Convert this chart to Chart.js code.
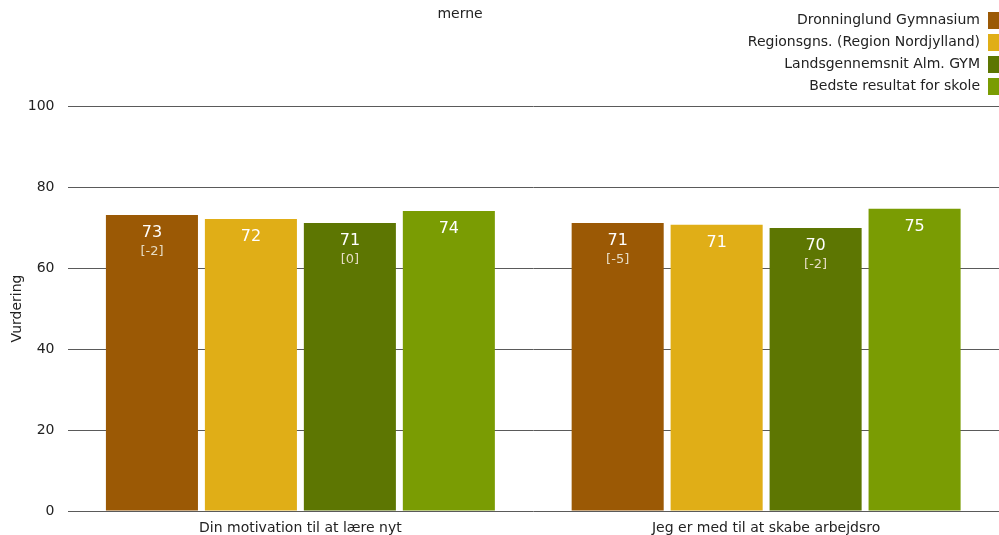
<!DOCTYPE html>
<html>
<head>
<meta charset="utf-8">
<script src="https://cdn.jsdelivr.net/npm/chart.js@4"></script>
<style>
  html, body { margin: 0; padding: 0; background: #fff; }
  #chart { display: block; }
</style>
</head>
<body>
<canvas id="chart" width="999" height="535"></canvas>
<script>
const categories = ["Din motivation til at lære nyt", "Jeg er med til at skabe arbejdsro"];
const seriesNames = ["Dronninglund Gymnasium", "Regionsgns. (Region Nordjylland)", "Landsgennemsnit Alm. GYM", "Bedste resultat for skole"];
const seriesColors = ["#9b5905", "#e0ae17", "#5d7602", "#7a9c03"];
const school = [73.1, 71.1];
const region = [72.1, 70.7];
const national = [71.1, 69.9];
const best = [74.1, 74.6];
// differences shown in brackets under the value
const schoolDiff = ["[-2]", "[-5]"];
const regionDiff = [null, null];
const nationalDiff = ["[0]", "[-2]"];
const bestDiff = [null, null];
const yTicks = [0, 20, 40, 60, 80, 100];

const FONT = "'DejaVu Sans', Verdana, sans-serif";

const values = [school, region, national, best];
const diffs = [schoolDiff, regionDiff, nationalDiff, bestDiff];

const labelPlugin = {
  id: "barLabels",
  afterDatasetsDraw(chart) {
    const ctx = chart.ctx;
    ctx.save();
    ctx.textAlign = "center";
    ctx.textBaseline = "middle";
    chart.data.datasets.forEach((ds, i) => {
      const meta = chart.getDatasetMeta(i);
      meta.data.forEach((bar, j) => {
        ctx.fillStyle = "#ffffff";
        ctx.font = "16px " + FONT;
        ctx.fillText(String(Math.round(ds.data[j])), bar.x, bar.y + 18);
        const d = diffs[i][j];
        if (d) {
          ctx.fillStyle = "#e6dcc4";
          ctx.font = "13px " + FONT;
          ctx.fillText(d, bar.x, bar.y + 37);
        }
      });
    });
    ctx.restore();
  }
};

const legendPlugin = {
  id: "sideLegend",
  afterDraw(chart) {
    const ctx = chart.ctx;
    ctx.save();
    ctx.font = "14px " + FONT;
    ctx.fillStyle = "#222";
    ctx.textBaseline = "middle";
    ctx.textAlign = "center";
    ctx.fillText("merne", 460, 14);
    ctx.textAlign = "right";
    chart.data.datasets.forEach((ds, i) => {
      const y = 20 + i * 22;
      ctx.fillStyle = "#222";
      ctx.fillText(ds.label, 980, y);
      ctx.fillStyle = ds.backgroundColor;
      ctx.fillRect(988, y - 8, 12, 17);
    });
    ctx.restore();
  }
};

new Chart(document.getElementById("chart"), {
  type: "bar",
  data: {
    labels: categories,
    datasets: seriesNames.map((name, i) => ({
      label: name,
      data: values[i],
      backgroundColor: seriesColors[i],
      categoryPercentage: 0.85,
      barPercentage: 0.93
    }))
  },
  options: {
    responsive: false,
    devicePixelRatio: 1,
    animation: false,
    layout: { padding: { top: 106, right: 0, left: 9, bottom: 0 } },
    plugins: {
      legend: { display: false },
      tooltip: { enabled: false },
      title: { display: false }
    },
    scales: {
      x: {
        grid: { display: false, drawTicks: false },
        border: { display: false },
        ticks: { color: "#222", font: { family: FONT, size: 14 }, padding: 9 },
        afterFit: (scale) => { scale.height = 24; }
      },
      y: {
        min: 0,
        max: 100,
        afterBuildTicks: (axis) => { axis.ticks = yTicks.map(v => ({ value: v })); },
        grid: { color: "#5a5a5a", lineWidth: 1, drawTicks: false },
        border: { display: false },
        ticks: { color: "#222", font: { family: FONT, size: 14 }, padding: 13 },
        title: { display: true, text: "Vurdering", color: "#222", font: { family: FONT, size: 14 }, padding: { top: 0, bottom: -11 } }
      }
    }
  },
  plugins: [labelPlugin, legendPlugin]
});
</script>
</body>
</html>
